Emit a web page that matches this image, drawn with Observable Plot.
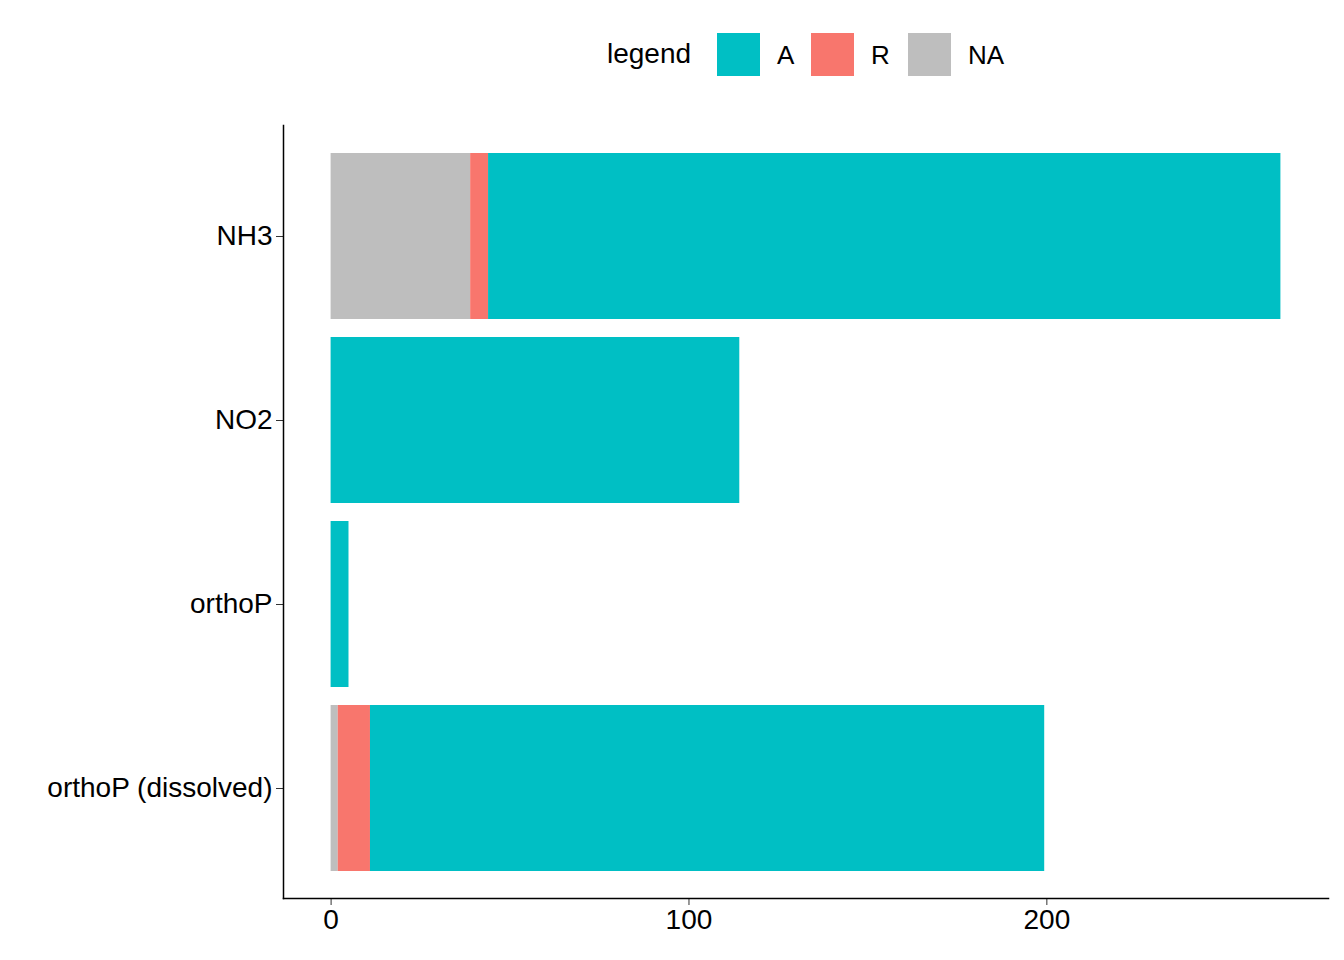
<!DOCTYPE html>
<html><head><meta charset="utf-8">
<script src="https://cdn.jsdelivr.net/npm/d3@7"></script>
<script src="https://cdn.jsdelivr.net/npm/@observablehq/plot@0.6"></script>
<style>
body{margin:0;background:#fff;font-family:"Liberation Sans",Arial,sans-serif;}
#legend{height:100px;position:relative;}
.sw{position:absolute;top:33px;width:43px;height:43px;}
.lt{position:absolute;top:38px;font-size:28px;color:#000;}
</style></head><body>
<div id="legend"></div>
<div id="chart"></div>
<script>
const categories = ["NH3","NO2","orthoP","orthoP (dissolved)"];
const groups = ["NA","R","A"];
const valuesNA = [39, 0, 0, 2];
const valuesR = [5, 0, 0, 9];
const valuesA = [221.4, 114.2, 5, 188.4];
const colors = {A:"#00BFC4", R:"#F8766D", NA:"#BEBEBE"};

const data = [];
categories.forEach((c,i)=>{
  data.push({cat:c, g:"NA", v:valuesNA[i]});
  data.push({cat:c, g:"R", v:valuesR[i]});
  data.push({cat:c, g:"A", v:valuesA[i]});
});

const leg = document.getElementById("legend");
leg.innerHTML = `<div class="lt" style="left:607px">legend</div>
<div class="sw" style="left:717px;background:${colors.A}"></div><div class="lt" style="left:777px;font-size:26px;top:40px">A</div>
<div class="sw" style="left:811px;background:${colors.R}"></div><div class="lt" style="left:871px;font-size:26px;top:40px">R</div>
<div class="sw" style="left:908px;background:${colors.NA}"></div><div class="lt" style="left:968px;font-size:26px;top:40px">NA</div>`;

const chart = Plot.plot({
  width:1344, height:860,
  marginLeft:283, marginRight:16, marginTop:25, marginBottom:62,
  style:{fontFamily:"Liberation Sans, Arial, sans-serif", fontSize:"28px", color:"#000"},
  x:{domain:[-13.3,278.7], ticks:[0,100,200], label:null},
  y:{domain:categories, paddingInner:0.1, paddingOuter:0.15, label:null},
  marks:[
    Plot.barX(data, Plot.stackX({x:"v", y:"cat", fill:d=>colors[d.g], order:null})),
    Plot.axisY({tickSize:7, tickPadding:4, fontSize:28, stroke:"#333"}),
    Plot.axisX({ticks:[0,100,200], tickSize:7, tickPadding:4, fontSize:28, stroke:"#333"}),
    Plot.frame({anchor:"left", stroke:"#000", strokeWidth:1.5}),
    Plot.frame({anchor:"bottom", stroke:"#000", strokeWidth:1.5})
  ]
});
document.getElementById("chart").appendChild(chart);
</script></body></html>
